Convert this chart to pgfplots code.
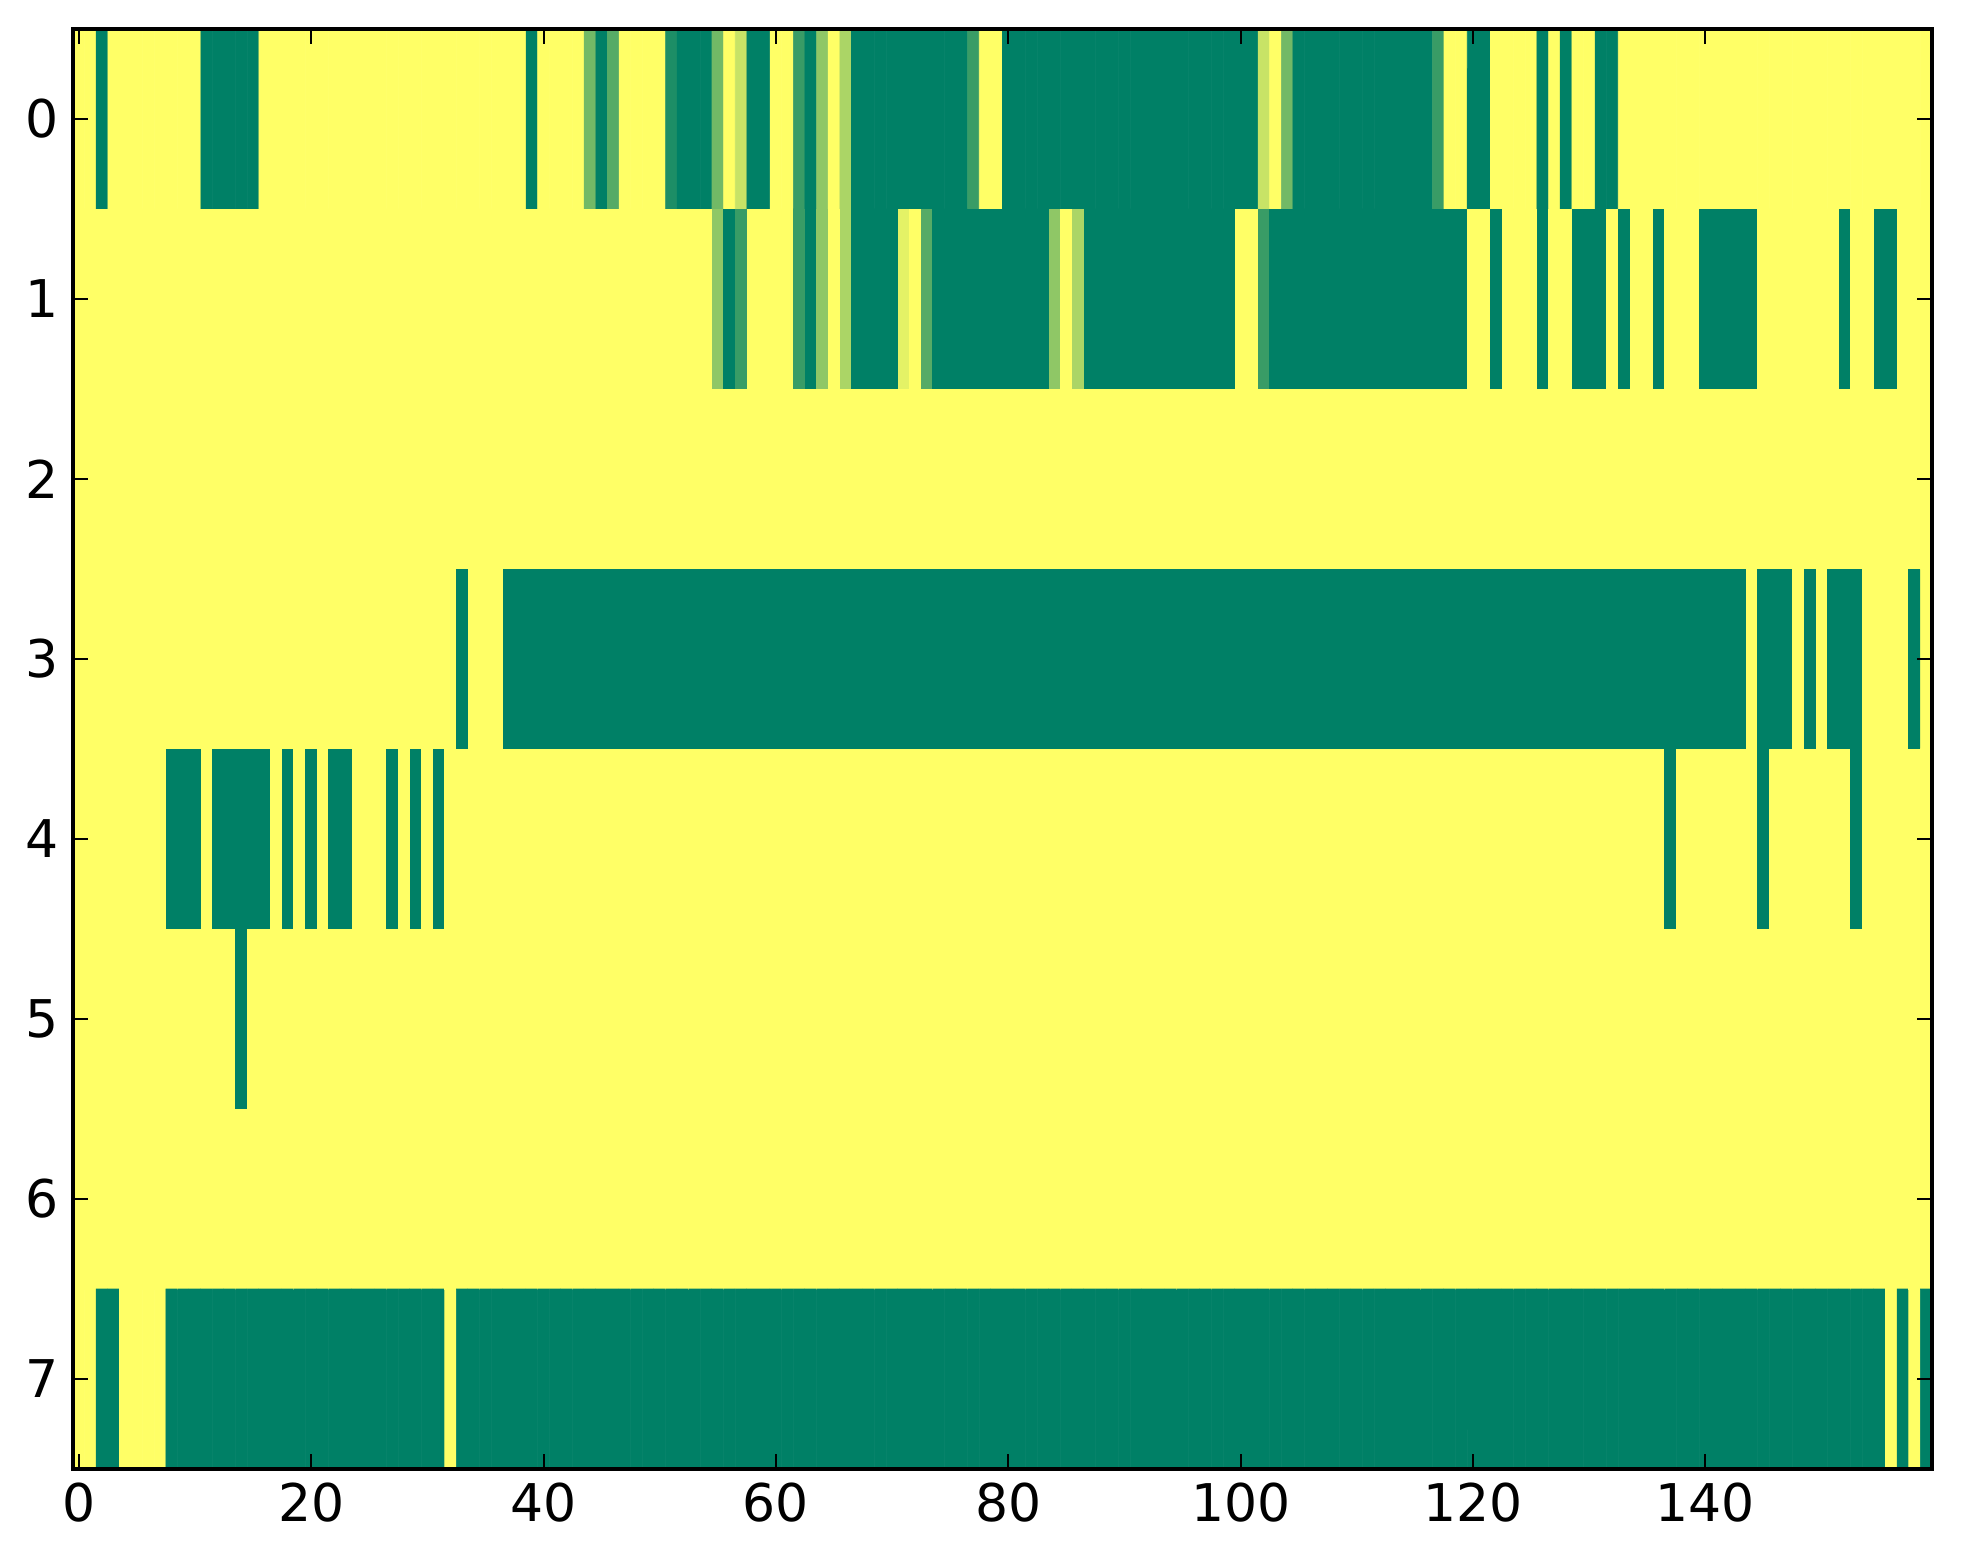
\documentclass[border=0pt]{standalone}
\usepackage{fontspec}
\setmainfont{DejaVu Sans}
\usepackage{pgfplots}
\pgfplotsset{compat=1.18}
\begin{document}
\begin{tikzpicture}
\begin{axis}[
  scale only axis,
  width=464.75pt, height=360pt,
  xmin=-0.5, xmax=159.5, ymin=-0.5, ymax=7.5,
  y dir=reverse,
  enlargelimits=false,
  axis on top,
  xtick={0,20,...,140},
  ytick={0,...,7},
  tick align=inside,
  major tick length=3.75pt,
  axis line style={line width=0.8pt, black},
  major tick style={line width=0.5pt, black},
  tick label style={font=\fontsize{13}{15}\selectfont},
  /pgf/number format/assume math mode=true,
  colormap={summer}{rgb255=(0,128,102) rgb255=(255,255,102)},
  point meta min=0, point meta max=9,
]
% one value per cell: 8 rows x 160 columns, 4 lines of 40 cells per row (9 = yellow, 0 = green)
\addplot[matrix plot*, mesh/cols=160, point meta=explicit, draw=mapped color, line width=0.15pt]
  table[row sep=\\, x expr={mod(\coordindex,160)}, y expr={floor(\coordindex/160)}, meta=z] {
z\\
9\\9\\0\\9\\9\\9\\9\\9\\9\\9\\ 9\\0\\0\\0\\0\\0\\9\\9\\9\\9\\ 9\\9\\9\\9\\9\\9\\9\\9\\9\\9\\ 9\\9\\9\\9\\9\\9\\9\\9\\9\\0\\
9\\9\\9\\9\\4\\0\\3\\9\\9\\9\\ 9\\1\\0\\0\\0\\4\\9\\7\\0\\0\\ 9\\9\\2\\0\\5\\9\\6\\0\\0\\0\\ 0\\0\\0\\0\\0\\0\\0\\2\\9\\9\\
0\\0\\0\\0\\0\\0\\0\\0\\0\\0\\ 0\\0\\0\\0\\0\\0\\0\\0\\0\\0\\ 0\\0\\7\\9\\4\\0\\0\\0\\0\\0\\ 0\\0\\0\\0\\0\\0\\0\\2\\9\\9\\
0\\0\\9\\9\\9\\9\\0\\9\\0\\9\\ 9\\0\\0\\9\\9\\9\\9\\9\\9\\9\\ 9\\9\\9\\9\\9\\9\\9\\9\\9\\9\\ 9\\9\\9\\9\\9\\9\\9\\9\\9\\9\\
9\\9\\9\\9\\9\\9\\9\\9\\9\\9\\ 9\\9\\9\\9\\9\\9\\9\\9\\9\\9\\ 9\\9\\9\\9\\9\\9\\9\\9\\9\\9\\ 9\\9\\9\\9\\9\\9\\9\\9\\9\\9\\
9\\9\\9\\9\\9\\9\\9\\9\\9\\9\\ 9\\9\\9\\9\\9\\5\\0\\2\\9\\9\\ 9\\9\\2\\0\\5\\9\\6\\0\\0\\0\\ 0\\8\\9\\3\\0\\0\\0\\0\\0\\0\\
0\\0\\0\\0\\5\\9\\6\\0\\0\\0\\ 0\\0\\0\\0\\0\\0\\0\\0\\0\\0\\ 9\\9\\2\\0\\0\\0\\0\\0\\0\\0\\ 0\\0\\0\\0\\0\\0\\0\\0\\0\\0\\
9\\9\\0\\9\\9\\9\\0\\9\\9\\0\\ 0\\0\\9\\0\\9\\9\\0\\9\\9\\9\\ 0\\0\\0\\0\\0\\9\\9\\9\\9\\9\\ 9\\9\\0\\9\\9\\0\\0\\9\\9\\9\\
9\\9\\9\\9\\9\\9\\9\\9\\9\\9\\ 9\\9\\9\\9\\9\\9\\9\\9\\9\\9\\ 9\\9\\9\\9\\9\\9\\9\\9\\9\\9\\ 9\\9\\9\\9\\9\\9\\9\\9\\9\\9\\
9\\9\\9\\9\\9\\9\\9\\9\\9\\9\\ 9\\9\\9\\9\\9\\9\\9\\9\\9\\9\\ 9\\9\\9\\9\\9\\9\\9\\9\\9\\9\\ 9\\9\\9\\9\\9\\9\\9\\9\\9\\9\\
9\\9\\9\\9\\9\\9\\9\\9\\9\\9\\ 9\\9\\9\\9\\9\\9\\9\\9\\9\\9\\ 9\\9\\9\\9\\9\\9\\9\\9\\9\\9\\ 9\\9\\9\\9\\9\\9\\9\\9\\9\\9\\
9\\9\\9\\9\\9\\9\\9\\9\\9\\9\\ 9\\9\\9\\9\\9\\9\\9\\9\\9\\9\\ 9\\9\\9\\9\\9\\9\\9\\9\\9\\9\\ 9\\9\\9\\9\\9\\9\\9\\9\\9\\9\\
9\\9\\9\\9\\9\\9\\9\\9\\9\\9\\ 9\\9\\9\\9\\9\\9\\9\\9\\9\\9\\ 9\\9\\9\\9\\9\\9\\9\\9\\9\\9\\ 9\\9\\9\\0\\9\\9\\9\\0\\0\\0\\
0\\0\\0\\0\\0\\0\\0\\0\\0\\0\\ 0\\0\\0\\0\\0\\0\\0\\0\\0\\0\\ 0\\0\\0\\0\\0\\0\\0\\0\\0\\0\\ 0\\0\\0\\0\\0\\0\\0\\0\\0\\0\\
0\\0\\0\\0\\0\\0\\0\\0\\0\\0\\ 0\\0\\0\\0\\0\\0\\0\\0\\0\\0\\ 0\\0\\0\\0\\0\\0\\0\\0\\0\\0\\ 0\\0\\0\\0\\0\\0\\0\\0\\0\\0\\
0\\0\\0\\0\\0\\0\\0\\0\\0\\0\\ 0\\0\\0\\0\\0\\0\\0\\0\\0\\0\\ 0\\0\\0\\0\\9\\0\\0\\0\\9\\0\\ 9\\0\\0\\0\\9\\9\\9\\9\\0\\9\\
9\\9\\9\\9\\9\\9\\9\\9\\0\\0\\ 0\\9\\0\\0\\0\\0\\0\\9\\0\\9\\ 0\\9\\0\\0\\9\\9\\9\\0\\9\\0\\ 9\\0\\9\\9\\9\\9\\9\\9\\9\\9\\
9\\9\\9\\9\\9\\9\\9\\9\\9\\9\\ 9\\9\\9\\9\\9\\9\\9\\9\\9\\9\\ 9\\9\\9\\9\\9\\9\\9\\9\\9\\9\\ 9\\9\\9\\9\\9\\9\\9\\9\\9\\9\\
9\\9\\9\\9\\9\\9\\9\\9\\9\\9\\ 9\\9\\9\\9\\9\\9\\9\\9\\9\\9\\ 9\\9\\9\\9\\9\\9\\9\\9\\9\\9\\ 9\\9\\9\\9\\9\\9\\9\\9\\9\\9\\
9\\9\\9\\9\\9\\9\\9\\9\\9\\9\\ 9\\9\\9\\9\\9\\9\\9\\0\\9\\9\\ 9\\9\\9\\9\\9\\0\\9\\9\\9\\9\\ 9\\9\\9\\0\\9\\9\\9\\9\\9\\9\\
9\\9\\9\\9\\9\\9\\9\\9\\9\\9\\ 9\\9\\9\\9\\0\\9\\9\\9\\9\\9\\ 9\\9\\9\\9\\9\\9\\9\\9\\9\\9\\ 9\\9\\9\\9\\9\\9\\9\\9\\9\\9\\
9\\9\\9\\9\\9\\9\\9\\9\\9\\9\\ 9\\9\\9\\9\\9\\9\\9\\9\\9\\9\\ 9\\9\\9\\9\\9\\9\\9\\9\\9\\9\\ 9\\9\\9\\9\\9\\9\\9\\9\\9\\9\\
9\\9\\9\\9\\9\\9\\9\\9\\9\\9\\ 9\\9\\9\\9\\9\\9\\9\\9\\9\\9\\ 9\\9\\9\\9\\9\\9\\9\\9\\9\\9\\ 9\\9\\9\\9\\9\\9\\9\\9\\9\\9\\
9\\9\\9\\9\\9\\9\\9\\9\\9\\9\\ 9\\9\\9\\9\\9\\9\\9\\9\\9\\9\\ 9\\9\\9\\9\\9\\9\\9\\9\\9\\9\\ 9\\9\\9\\9\\9\\9\\9\\9\\9\\9\\
9\\9\\9\\9\\9\\9\\9\\9\\9\\9\\ 9\\9\\9\\9\\9\\9\\9\\9\\9\\9\\ 9\\9\\9\\9\\9\\9\\9\\9\\9\\9\\ 9\\9\\9\\9\\9\\9\\9\\9\\9\\9\\
9\\9\\9\\9\\9\\9\\9\\9\\9\\9\\ 9\\9\\9\\9\\9\\9\\9\\9\\9\\9\\ 9\\9\\9\\9\\9\\9\\9\\9\\9\\9\\ 9\\9\\9\\9\\9\\9\\9\\9\\9\\9\\
9\\9\\9\\9\\9\\9\\9\\9\\9\\9\\ 9\\9\\9\\9\\9\\9\\9\\9\\9\\9\\ 9\\9\\9\\9\\9\\9\\9\\9\\9\\9\\ 9\\9\\9\\9\\9\\9\\9\\9\\9\\9\\
9\\9\\9\\9\\9\\9\\9\\9\\9\\9\\ 9\\9\\9\\9\\9\\9\\9\\9\\9\\9\\ 9\\9\\9\\9\\9\\9\\9\\9\\9\\9\\ 9\\9\\9\\9\\9\\9\\9\\9\\9\\9\\
9\\9\\0\\0\\9\\9\\9\\9\\0\\0\\ 0\\0\\0\\0\\0\\0\\0\\0\\0\\0\\ 0\\0\\0\\0\\0\\0\\0\\0\\0\\0\\ 0\\0\\9\\0\\0\\0\\0\\0\\0\\0\\
0\\0\\0\\0\\0\\0\\0\\0\\0\\0\\ 0\\0\\0\\0\\0\\0\\0\\0\\0\\0\\ 0\\0\\0\\0\\0\\0\\0\\0\\0\\0\\ 0\\0\\0\\0\\0\\0\\0\\0\\0\\0\\
0\\0\\0\\0\\0\\0\\0\\0\\0\\0\\ 0\\0\\0\\0\\0\\0\\0\\0\\0\\0\\ 0\\0\\0\\0\\0\\0\\0\\0\\0\\0\\ 0\\0\\0\\0\\0\\0\\0\\0\\0\\0\\
0\\0\\0\\0\\0\\0\\0\\0\\0\\0\\ 0\\0\\0\\0\\0\\0\\0\\0\\0\\0\\ 0\\0\\0\\0\\0\\0\\0\\0\\0\\0\\ 0\\0\\0\\0\\0\\0\\9\\0\\9\\0\\
};
\end{axis}
\path ([shift={(-18.25pt,-23.75pt)}]current axis.south west)
  rectangle ([shift={(7.75pt,7.25pt)}]current axis.north east);
\end{tikzpicture}
\end{document}
